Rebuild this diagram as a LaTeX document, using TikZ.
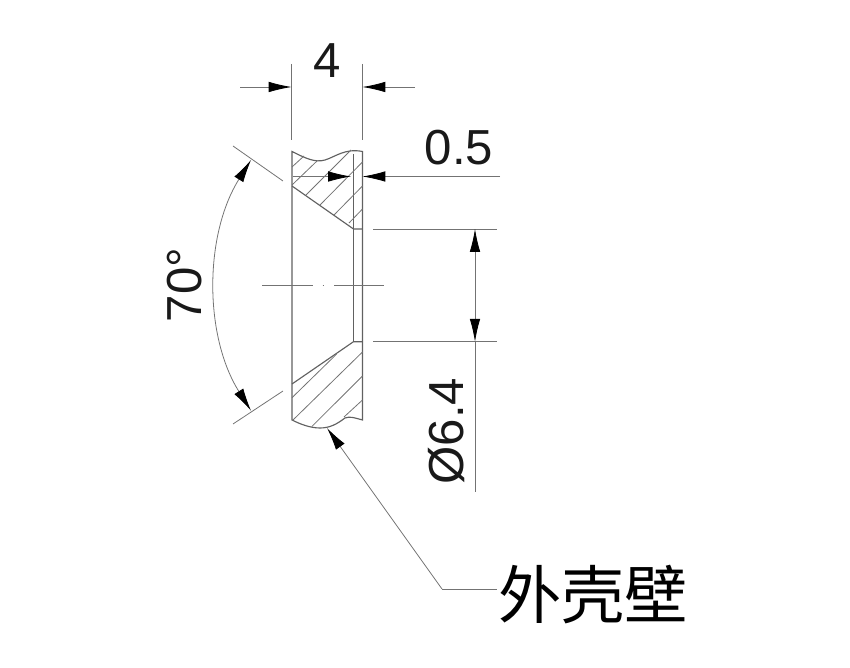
\documentclass[tikz,border=0pt]{standalone}
\usepackage{fontspec}
\setmainfont{Liberation Sans}
\newfontfamily\cjk{Noto Sans CJK SC}
\usetikzlibrary{arrows.meta}
\tikzset{
  part/.style={draw=black!62, line width=.65pt},
  thinline/.style={draw=black!55, line width=.45pt},
  dimhead/.tip={Latex[length=13pt,width=6pt,black]},
  dimtip/.style={-dimhead},
  dimboth/.style={dimhead-dimhead},
  dimtext/.style={font=\fontsize{28}{28}\selectfont, inner sep=0pt, text=black!90},
}
\begin{document}
\begin{tikzpicture}[x=.02cm, y=-.02cm]
\useasboundingbox (0,0) rectangle (850,668);
% outline
\draw[part] (292,151.5) .. controls (305,158) and (315,163) .. (325,160) .. controls (335,157) and (345,148) .. (362.5,151.5)--(362.5,420) .. controls (355,418) and (350,416) .. (345,418) .. controls (337,424) and (330,428) .. (320,428) .. controls (310,428) and (300,424) .. (292,420)--cycle;
\draw[part] (292,186)--(353.5,229)--(362.5,229);
\draw[part] (292,384)--(353.5,341.7)--(362.5,341.7);
\draw[part] (353.5,154)--(353.5,341.7);
% hatching
\foreach \xa/\ya/\xb/\yb in {292/167/304/156, 292/185/317/161, 306/195/351/150, 320/205/362.5/162, 334/215/362.5/186, 349/223/362.5/209,
  292/397.7/336.7/354, 293/420/362.5/352, 311.7/426.7/362.5/376, 344/417/362.5/400}
  \draw[thinline] (\xa,\ya)--(\xb,\yb);
% center line
\draw[thinline] (262,285.3)--(313,285.3) (322.5,285.3)--(324,285.3) (334,285.3)--(384,285.3);
% width 4
\draw[thinline] (291.5,64)--(291.5,140) (362.5,64)--(362.5,140);
\draw[thinline, dimtip] (240,87)--(291.5,87);
\draw[thinline, dimtip] (415,87)--(362.5,87);
\node[dimtext] (widthlabel) at (327,60.5) {4};
% 0.5
\draw[thinline, dimtip] (293,176.5)--(351,176.5);
\draw[thinline, dimtip] (500,176.5)--(362.5,176.5);
\node[dimtext] (steplabel) at (459,148) {0.5};
% bore
\draw[thinline] (373,229)--(497,229) (373,341.7)--(497,341.7);
\draw[thinline, dimboth] (475,229)--(475,341.7);
\draw[thinline] (475,341.7)--(475,492);
\node[dimtext, rotate=90] (borelabel) at (447,431) {Ø6.4};
% angle
\draw[thinline] (233,146)--(283,181) (233,424)--(283,391);
\draw[thinline, dimboth] (251,160) .. controls (204,235) and (204,336) .. (251,410.7);
\node[dimtext, rotate=90] (anglelabel) at (185,285) {70°};
% leader
\coordinate (bend) at (442,589);
\node[font=\cjk\fontsize{36}{36}\selectfont, inner sep=0pt] (wall) at (593,595) {外壳壁};
\draw[thinline] (bend)--(497,589);
\draw[thinline, dimtip] (bend)--(327,428);
\end{tikzpicture}
\end{document}
